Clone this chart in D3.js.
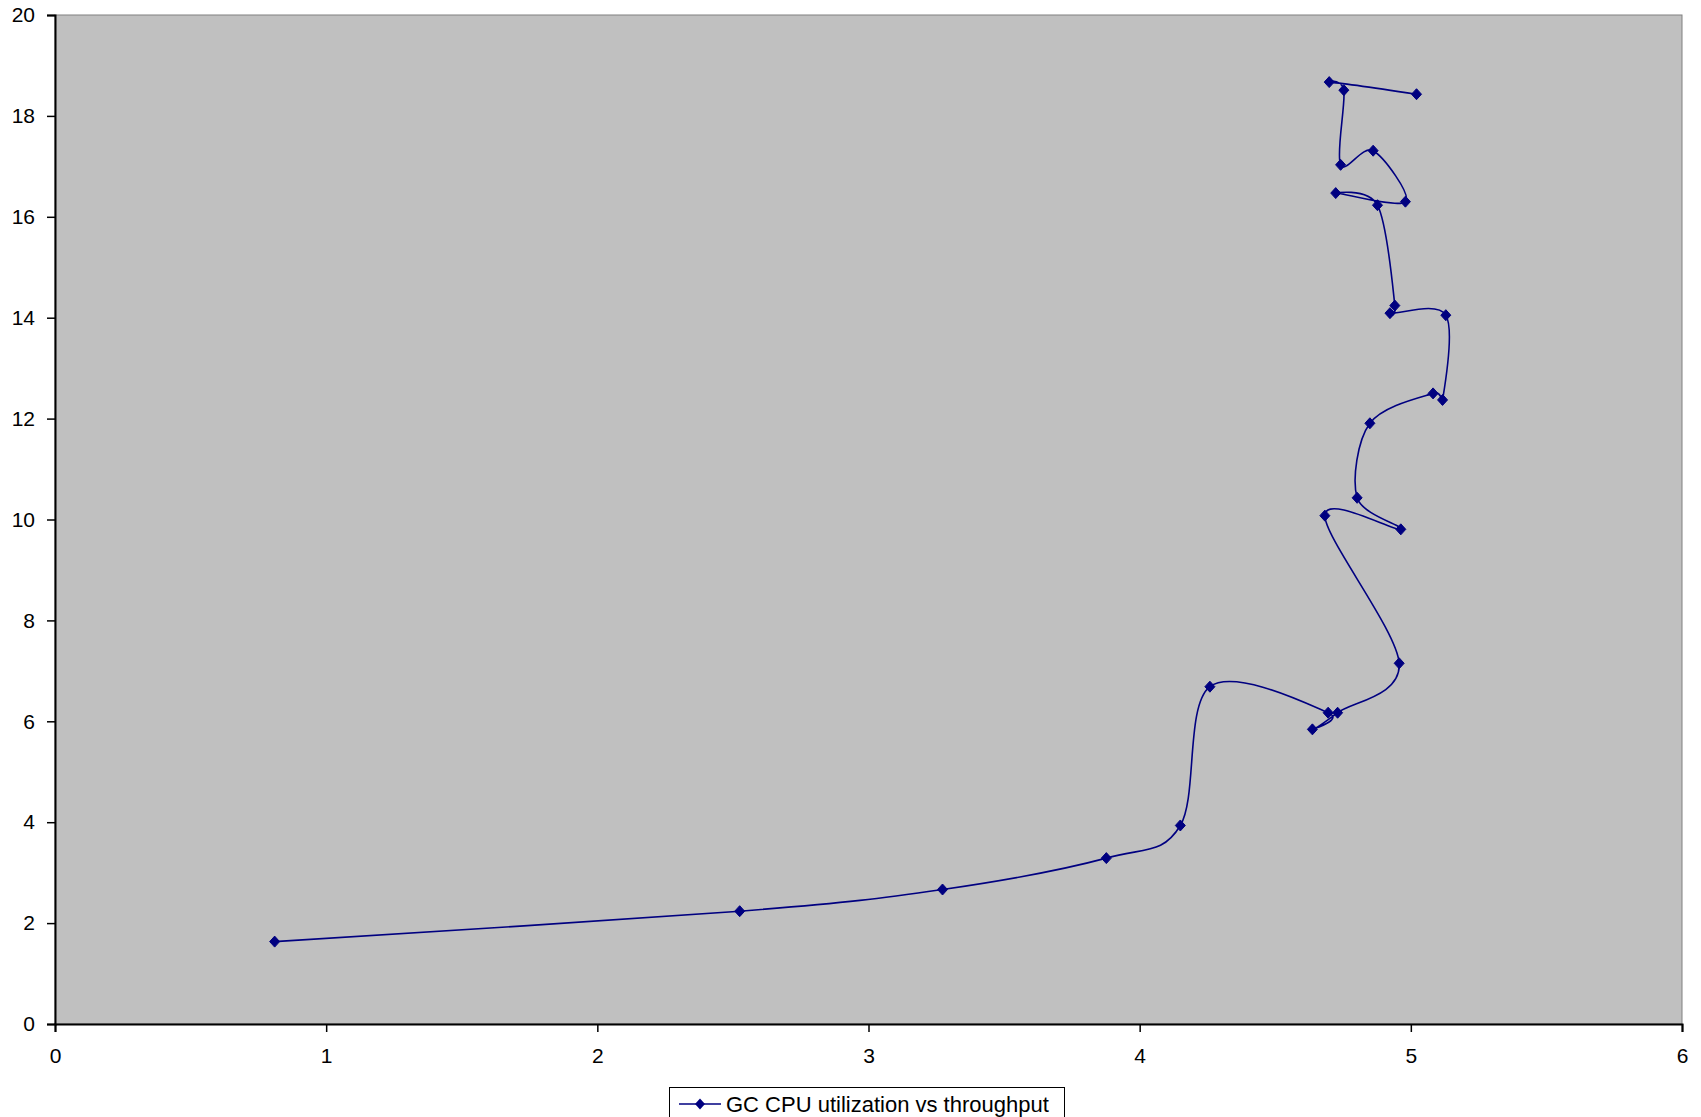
<!DOCTYPE html>
<html>
<head>
<meta charset="utf-8">
<script src="https://cdn.jsdelivr.net/npm/d3@7"></script>
<style>
  html, body { margin: 0; padding: 0; background: #fff; }
  svg { display: block; }
  text { font-family: "Liberation Sans", Arial, sans-serif; }
</style>
</head>
<body>
<svg id="chart" width="1701" height="1117"></svg>
<script>
// Data (in drawing order of the line)
const throughput = [0.81, 2.525, 3.273, 3.877, 4.15, 4.259, 4.695, 4.637, 4.73, 4.957,
  4.683, 4.963, 4.802, 4.849, 5.082, 5.117, 5.129, 4.923, 4.941, 4.877,
  4.723, 4.98, 4.861, 4.741, 4.753, 4.699, 5.021];
const gcCpu = [1.633, 2.236, 2.666, 3.288, 3.935, 6.686, 6.17, 5.84, 6.17, 7.15,
  10.076, 9.805, 10.43, 11.907, 12.50, 12.37, 14.05, 14.09, 14.24, 16.23,
  16.47, 16.30, 17.31, 17.03, 18.51, 18.67, 18.43];
const xTicks = [0, 1, 2, 3, 4, 5, 6];
const yTicks = [0, 2, 4, 6, 8, 10, 12, 14, 16, 18, 20];
const seriesName = "GC CPU utilization vs throughput";

const svg = d3.select("#chart");
const plot = { left: 55, top: 15, right: 1682, bottom: 1024 };
const x = d3.scaleLinear().domain([0, 6]).range([plot.left, plot.right]);
const y = d3.scaleLinear().domain([0, 20]).range([plot.bottom, plot.top]);
const color = "#000080";

// Plot background
svg.append("rect")
  .attr("x", plot.left).attr("y", plot.top)
  .attr("width", plot.right - plot.left).attr("height", plot.bottom - plot.top)
  .attr("fill", "#c0c0c0").attr("stroke", "#808080").attr("stroke-width", 1);

// Y axis
const yAxis = svg.append("g").attr("transform", `translate(${plot.left},0)`)
  .call(d3.axisLeft(y).tickValues(yTicks).tickSize(8).tickPadding(12).tickFormat(d3.format("d")));
yAxis.select(".domain").attr("stroke", "#000").attr("stroke-width", 2);
yAxis.selectAll(".tick line").attr("stroke", "#000").attr("stroke-width", 1.5);
yAxis.selectAll("text").attr("font-size", 21).attr("fill", "#000")
  .attr("font-family", "'Liberation Sans', Arial, sans-serif");

// X axis
const xAxis = svg.append("g").attr("transform", `translate(0,${plot.bottom})`)
  .call(d3.axisBottom(x).tickValues(xTicks).tickSize(8).tickPadding(16).tickFormat(d3.format("d")));
xAxis.select(".domain").attr("stroke", "#000").attr("stroke-width", 2);
xAxis.selectAll(".tick line").attr("stroke", "#000").attr("stroke-width", 1.5);
xAxis.selectAll("text").attr("font-size", 21).attr("fill", "#000")
  .attr("font-family", "'Liberation Sans', Arial, sans-serif");

// Series line
const pts = throughput.map((v, i) => [v, gcCpu[i]]);
const line = d3.line().x(d => x(d[0])).y(d => y(d[1])).curve(d3.curveCardinal.tension(0));
svg.append("path").datum(pts)
  .attr("d", line).attr("fill", "none").attr("stroke", color).attr("stroke-width", 1.6);

// Markers
const diamond = "M0,-5.5L5,0L0,5.5L-5,0Z";
svg.append("g").selectAll("path").data(pts).join("path")
  .attr("transform", d => `translate(${x(d[0])},${y(d[1])})`)
  .attr("d", diamond).attr("fill", color).attr("stroke", color).attr("stroke-width", 1);

// Legend
const lg = svg.append("g").attr("transform", "translate(669,1087)");
lg.append("rect").attr("x", 0.5).attr("y", 0.5).attr("width", 395).attr("height", 40)
  .attr("fill", "#fff").attr("stroke", "#000").attr("stroke-width", 1);
lg.append("line").attr("x1", 10).attr("x2", 52).attr("y1", 17).attr("y2", 17)
  .attr("stroke", color).attr("stroke-width", 1.6);
lg.append("path").attr("transform", "translate(31,17)").attr("d", diamond).attr("fill", color);
lg.append("text").attr("x", 57).attr("y", 25).attr("font-size", 22).attr("fill", "#000")
  .text(seriesName);
</script>
</body>
</html>
